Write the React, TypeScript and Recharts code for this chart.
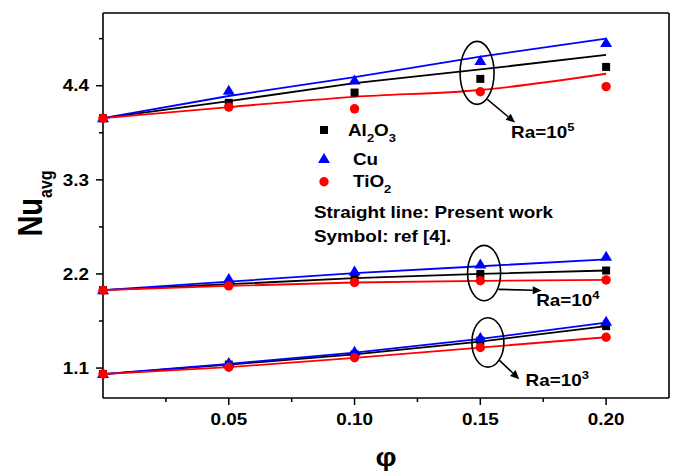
import { ComposedChart, Line, XAxis, YAxis, ReferenceDot, ReferenceLine } from "recharts";

// volume fraction of nanoparticles
const PHI = [0, 0.05, 0.1, 0.15, 0.2];

// Present work (solid lines)
const AL2O3_RA5 = [4.02, 4.22, 4.43, 4.59, 4.76];
const CU_RA5 = [4.02, 4.28, 4.5, 4.74, 4.95];
const TIO2_RA5 = [4.02, 4.15, 4.27, 4.35, 4.54];
const AL2O3_RA4 = [2.01, 2.08, 2.15, 2.2, 2.24];
const CU_RA4 = [2.01, 2.11, 2.21, 2.29, 2.37];
const TIO2_RA4 = [2.01, 2.06, 2.1, 2.12, 2.13];
const AL2O3_RA3 = [1.03, 1.14, 1.26, 1.41, 1.59];
const CU_RA3 = [1.03, 1.15, 1.28, 1.44, 1.63];
const TIO2_RA3 = [1.03, 1.11, 1.22, 1.34, 1.46];

// ref [4] (symbols)
const REF_AL2O3_RA5 = [4.02, 4.2, 4.32, 4.48, 4.62];
const REF_CU_RA5 = [4.02, 4.34, 4.46, 4.69, 4.9];
const REF_TIO2_RA5 = [4.02, 4.15, 4.13, 4.33, 4.39];
const REF_AL2O3_RA4 = [2.01, 2.08, 2.16, 2.2, 2.24];
const REF_CU_RA4 = [2.01, 2.14, 2.23, 2.31, 2.4];
const REF_TIO2_RA4 = [2.01, 2.06, 2.1, 2.12, 2.13];
const REF_AL2O3_RA3 = [1.03, 1.14, 1.26, 1.42, 1.59];
const REF_CU_RA3 = [1.03, 1.16, 1.29, 1.45, 1.64];
const REF_TIO2_RA3 = [1.03, 1.11, 1.22, 1.34, 1.46];

const X_TICKS = [0.025, 0.05, 0.075, 0.1, 0.125, 0.15, 0.175, 0.2];
const Y_TICKS = [1.1, 1.65, 2.2, 2.75, 3.3, 3.85, 4.4, 4.95];

// Ra annotations (ellipse centre, arrow start/end, label anchor) in data units
const RA_LABELS = ["5", "4", "3"];
const ELLIPSE_X = [0.1487, 0.1515, 0.153];
const ELLIPSE_Y = [4.55, 2.21, 1.4];
const ARROW_FROM = [[0.1528, 4.24], [0.1572, 2.02], [0.1576, 1.19]];
const ARROW_TO = [[0.1638, 3.97], [0.1744, 2.006], [0.1655, 0.97]];
const LABEL_AT = [[0.1622, 3.79], [0.1722, 1.83], [0.168, 0.894]];
const ELLIPSE_R = [[17, 31.5], [16.5, 27.7], [16, 24.7]];

const data = PHI.map((phi, i) => ({
  phi,
  al5: AL2O3_RA5[i], cu5: CU_RA5[i], ti5: TIO2_RA5[i],
  al4: AL2O3_RA4[i], cu4: CU_RA4[i], ti4: TIO2_RA4[i],
  al3: AL2O3_RA3[i], cu3: CU_RA3[i], ti3: TIO2_RA3[i],
  ral5: REF_AL2O3_RA5[i], rcu5: REF_CU_RA5[i], rti5: REF_TIO2_RA5[i],
  ral4: REF_AL2O3_RA4[i], rcu4: REF_CU_RA4[i], rti4: REF_TIO2_RA4[i],
  ral3: REF_AL2O3_RA3[i], rcu3: REF_CU_RA3[i], rti3: REF_TIO2_RA3[i],
}));

const FONT = "Arial, 'Liberation Sans', sans-serif";
const BLACK = "#000000";
const BLUE = "#0000ff";
const RED = "#ff0000";
// the original figure is stretched sideways, so its glyphs are wider than plain Arial
const STRETCH = 1.18;

const LINES = [
  { key: "al5", color: BLACK }, { key: "cu5", color: BLUE }, { key: "ti5", color: RED, curve: "monotone" },
  { key: "al4", color: BLACK }, { key: "cu4", color: BLUE }, { key: "ti4", color: RED },
  { key: "al3", color: BLACK }, { key: "cu3", color: BLUE }, { key: "ti3", color: RED },
];

const SYMBOLS = [
  { key: "ral5", kind: "square", color: BLACK }, { key: "rcu5", kind: "triangle", color: BLUE }, { key: "rti5", kind: "circle", color: RED },
  { key: "ral4", kind: "square", color: BLACK }, { key: "rcu4", kind: "triangle", color: BLUE }, { key: "rti4", kind: "circle", color: RED },
  { key: "ral3", kind: "square", color: BLACK }, { key: "rcu3", kind: "triangle", color: BLUE }, { key: "rti3", kind: "circle", color: RED },
];

const SText = ({ x, y, size = 16, anchor = "start", dy, bold = true, children }: any) => (
  <text
    transform={`translate(${x},${y}) scale(${STRETCH},1)`}
    dy={dy}
    textAnchor={anchor}
    fontFamily={FONT}
    fontWeight={bold ? "bold" : "normal"}
    fontSize={size}
    fill={BLACK}
  >
    {children}
  </text>
);

const drawMark = (kind: string, color: string, cx: number, cy: number, key?: any) => {
  if (kind === "square") return <rect key={key} x={cx - 4} y={cy - 4} width={8} height={8} fill={color} />;
  if (kind === "triangle")
    return <polygon key={key} points={`${cx},${cy - 6} ${cx - 6},${cy + 4} ${cx + 6},${cy + 4}`} fill={color} />;
  return <circle key={key} cx={cx} cy={cy} r={4.7} fill={color} />;
};

const markDot = (kind: string, color: string) => (props: any) => {
  const { cx, cy, index } = props;
  if (cx == null || cy == null) return <g key={index} />;
  return drawMark(kind, color, cx, cy, index);
};

const isMajor = (v: number, step: number) => Math.abs(v / step - Math.round(v / step)) < 1e-6;

const YTick = (props: any) => {
  const { x, y, payload } = props;
  const major = isMajor(payload.value, 1.1);
  return (
    <g>
      <line x1={x} x2={x - (major ? 7 : 4)} y1={y} y2={y} stroke={BLACK} strokeWidth={1.5} />
      {major && (
        <SText x={x - 14} y={y} dy="0.36em" anchor="end">
          {payload.value.toFixed(1)}
        </SText>
      )}
    </g>
  );
};

const XTick = (props: any) => {
  const { x, y, payload } = props;
  const major = isMajor(payload.value, 0.05);
  return (
    <g>
      <line x1={x} x2={x} y1={y} y2={y + (major ? 7 : 4)} stroke={BLACK} strokeWidth={1.5} />
      {major && (
        <SText x={x} y={y + 27} anchor="middle">
          {payload.value.toFixed(2)}
        </SText>
      )}
    </g>
  );
};

const YTitle = (props: any) => {
  const { viewBox } = props;
  const cx = 42;
  const cy = viewBox.y + viewBox.height / 2 - 2;
  return (
    <text
      transform={`translate(${cx},${cy}) scale(1.2,1) rotate(-90)`}
      textAnchor="middle"
      fontFamily={FONT}
      fontWeight="bold"
      fill={BLACK}
    >
      <tspan fontSize={29}>Nu</tspan>
      <tspan fontSize={16} dy={8}>avg</tspan>
    </text>
  );
};

const XTitle = (props: any) => {
  const { viewBox } = props;
  return (
    <SText x={viewBox.x + viewBox.width / 2} y={viewBox.y + 68} anchor="middle" size={25}>
      φ
    </SText>
  );
};

const Arrow = (props: any) => {
  const { x1, y1, x2, y2 } = props;
  const a = Math.atan2(y2 - y1, x2 - x1);
  const len = 9;
  const w = 4;
  const bx = x2 - len * Math.cos(a);
  const by = y2 - len * Math.sin(a);
  const px = -Math.sin(a) * w;
  const py = Math.cos(a) * w;
  return (
    <g>
      <line x1={x1} y1={y1} x2={bx} y2={by} stroke={BLACK} strokeWidth={1.6} />
      <polygon points={`${x2},${y2} ${bx + px},${by + py} ${bx - px},${by - py}`} fill={BLACK} />
    </g>
  );
};

const Legend = () => (
  <svg width={676} height={475} style={{ position: "absolute", left: 0, top: 0, pointerEvents: "none" }}>
    {drawMark("square", BLACK, 324, 130)}
    <SText x={348} y={136}>
      Al<tspan fontSize={11} dy={6}>2</tspan>
      <tspan dy={-6}>O</tspan>
      <tspan fontSize={11} dy={6}>3</tspan>
    </SText>
    {drawMark("triangle", BLUE, 324, 159)}
    <SText x={353} y={165}>Cu</SText>
    {drawMark("circle", RED, 324, 181.7)}
    <SText x={353} y={187}>
      TiO<tspan fontSize={11} dy={6}>2</tspan>
    </SText>
    <SText x={314} y={218}>Straight line: Present work</SText>
    <SText x={314} y={242}>Symbol: ref [4].</SText>
  </svg>
);

export default function App() {
  return (
    <div style={{ position: "absolute", left: 0, top: 0, width: 676, height: 475, background: "#fff" }}>
      <ComposedChart width={676} height={475} data={data} margin={{ top: 12, right: 6, bottom: 17, left: 43 }}>
        <XAxis
          dataKey="phi"
          type="number"
          domain={[0, 0.225]}
          ticks={X_TICKS}
          interval={0}
          height={60}
          tickSize={0}
          tickMargin={0}
          tickLine={false}
          tick={<XTick />}
          axisLine={{ stroke: BLACK, strokeWidth: 1.6 }}
          label={<XTitle />}
        />
        <XAxis xAxisId="top" orientation="top" type="number" domain={[0, 0.225]} height={1} tick={false} tickLine={false} axisLine={{ stroke: BLACK, strokeWidth: 1.6 }} />
        <YAxis
          type="number"
          domain={[0.75, 5.25]}
          ticks={Y_TICKS}
          interval={0}
          width={60}
          tickSize={0}
          tickMargin={0}
          tickLine={false}
          tick={<YTick />}
          axisLine={{ stroke: BLACK, strokeWidth: 1.6 }}
          label={<YTitle />}
        />
        <YAxis yAxisId="right" orientation="right" type="number" domain={[0.75, 5.25]} width={1} tick={false} tickLine={false} axisLine={{ stroke: BLACK, strokeWidth: 1.6 }} />

        {LINES.map((s) => (
          <Line
            key={s.key}
            dataKey={s.key}
            type={(s.curve as any) || "linear"}
            stroke={s.color}
            strokeWidth={1.8}
            dot={false}
            activeDot={false}
            isAnimationActive={false}
          />
        ))}
        {SYMBOLS.map((s) => (
          <Line
            key={s.key}
            dataKey={s.key}
            stroke="none"
            dot={markDot(s.kind, s.color)}
            activeDot={false}
            isAnimationActive={false}
          />
        ))}

        {RA_LABELS.map((ra, i) => (
          <ReferenceDot
            key={`e${i}`}
            x={ELLIPSE_X[i]}
            y={ELLIPSE_Y[i]}
            r={0}
            shape={(p: any) => (
              <ellipse cx={p.cx} cy={p.cy} rx={ELLIPSE_R[i][0]} ry={ELLIPSE_R[i][1]} fill="none" stroke={BLACK} strokeWidth={1.6} />
            )}
          />
        ))}
        {RA_LABELS.map((ra, i) => (
          <ReferenceLine
            key={`a${i}`}
            segment={[
              { x: ARROW_FROM[i][0], y: ARROW_FROM[i][1] },
              { x: ARROW_TO[i][0], y: ARROW_TO[i][1] },
            ]}
            shape={(p: any) => <Arrow {...p} />}
          />
        ))}
        {RA_LABELS.map((ra, i) => (
          <ReferenceDot
            key={`l${i}`}
            x={LABEL_AT[i][0]}
            y={LABEL_AT[i][1]}
            r={0}
            shape={(p: any) => (
              <SText x={p.cx} y={p.cy}>
                Ra=10<tspan fontSize={11} dy={-7}>{ra}</tspan>
              </SText>
            )}
          />
        ))}
      </ComposedChart>
      <Legend />
    </div>
  );
}
